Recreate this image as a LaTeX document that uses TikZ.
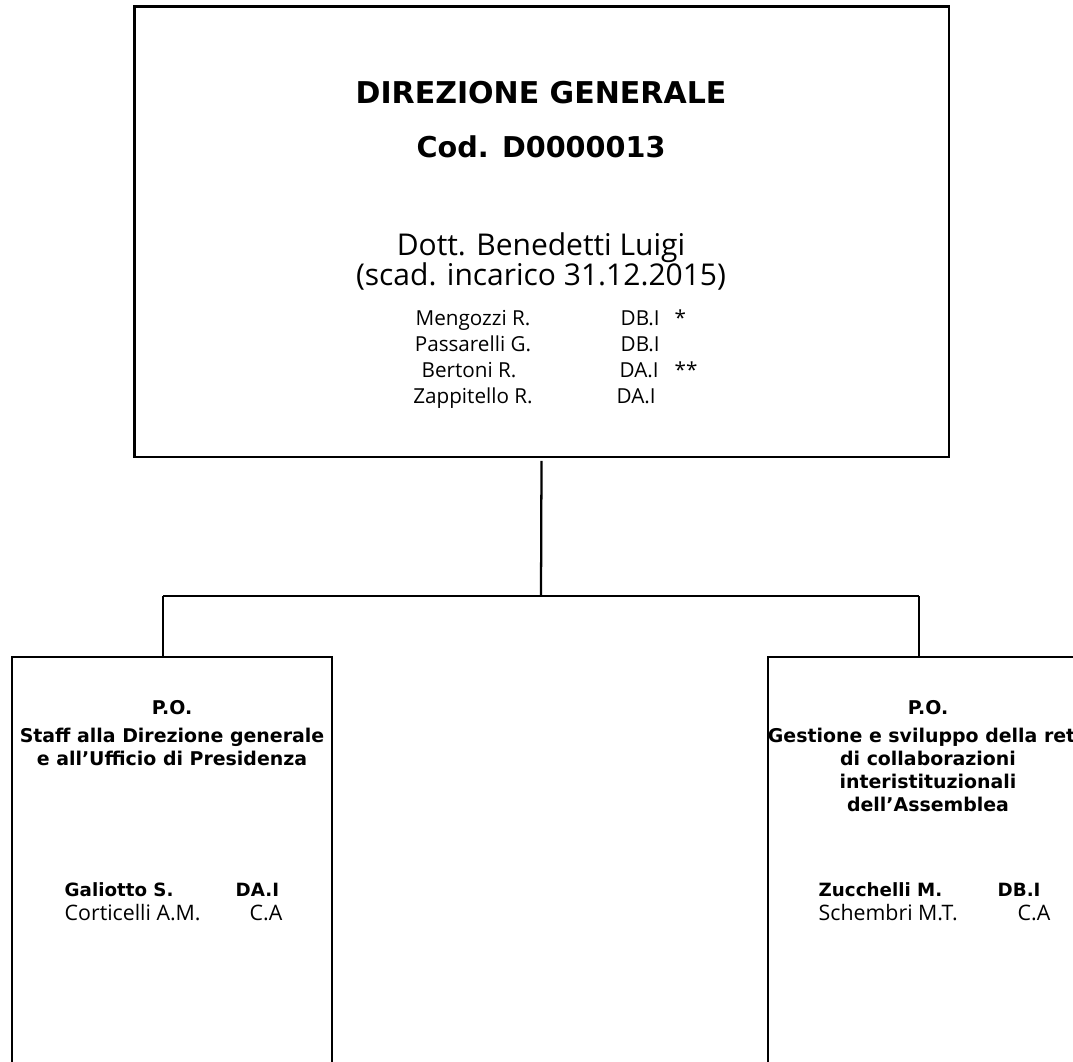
\documentclass[tikz,border=0pt]{standalone}
\usepackage{fontspec}
\newfontfamily\headfont{DejaVu Sans}
\newfontfamily\bodyfont{Open Sans}
\usetikzlibrary{positioning}

\tikzset{
  office/.style={draw, line width=2pt, inner sep=0pt},
  link/.style={line width=1.7pt},
  title/.style={font=\headfont\bfseries\fontsize{22.5}{27}\selectfont, anchor=base},
  code/.style={font=\headfont\bfseries\fontsize{21.5}{26}\selectfont, anchor=base},
  chief/.style={font=\bodyfont\fontsize{22.5}{27}\selectfont, anchor=base},
  unit/.style={font=\headfont\bfseries\fontsize{14.2}{17}\selectfont, anchor=base},
  staff/.style={font=\bodyfont\fontsize{15.5}{18}\selectfont, anchor=base},
  grade/.style={font=\bodyfont\fontsize{15.5}{18}\selectfont, anchor=base west},
  headb/.style={font=\headfont\bfseries\fontsize{13.7}{16}\selectfont, anchor=base west},
  memb/.style={font=\bodyfont\fontsize{16}{19}\selectfont, anchor=base west},
}

\begin{document}
\begin{tikzpicture}[x=0.75pt, y=-0.75pt]
\useasboundingbox (0,0) rectangle (1073,1061);
\clip (0,0) rectangle (1073,1061);

% Boxes
\node[office, minimum width=611pt, minimum height=338pt] (dg) at (541.5,231.5) {};
\node[office, minimum width=240pt, minimum height=375pt] (staffpo) at (172,907) {};
\node[office, minimum width=240pt, minimum height=375pt] (retepo) at (928,907) {};

% Connectors
\coordinate (hub) at (541,596);
\coordinate (hubl) at (163,596);
\coordinate (hubr) at (919,596);
\draw[link] ([yshift=-2pt]dg.south) -- (hub);
\draw[link] (hubl) -- (hubr);
\draw[link] (hubl) -- ([yshift=-1pt]hubl |- staffpo.north);
\draw[link] (hubr) -- ([yshift=-1pt]hubr |- retepo.north);

% Direzione generale
\node[title] (dgname) at (541,103) {DIREZIONE GENERALE};
\node[code] (dgcode) at (541,157) {Cod. D0000013};
\node[chief] (dgchief) at (541,255) {Dott. Benedetti Luigi};
\node[chief] (dgterm) at (541,285) {(scad. incarico 31.12.2015)};
\node[staff] (mengozzi) at (473,325) {Mengozzi R.};
\node[staff] (passarelli) at (473,351) {Passarelli G.};
\node[staff] (bertoni) at (469,377) {Bertoni R.};
\node[staff] (zappitello) at (473,403) {Zappitello R.};
\node[grade] (mengozzig) at (616,325) {DB.I};
\node[grade] (passarellig) at (616,351) {DB.I};
\node[grade] (bertonig) at (615,377) {DA.I};
\node[grade] (zappitellog) at (612,403) {DA.I};
\node[grade] (star1) at (670,325) {*};
\node[grade] (star2) at (670,377) {**};

% P.O. staff
\node[unit] (stafftit) at (172,714) {P.O.};
\node[unit] (staffl1) at (172,742) {Staff alla Direzione generale};
\node[unit] (staffl2) at (172,765) {e all’Ufficio di Presidenza};
\node[headb] (galiotto) at (60,896) {Galiotto S.};
\node[headb] (galiottog) at (231,896) {DA.I};
\node[memb] (corticelli) at (60,920) {Corticelli A.M.};
\node[memb] (corticellig) at (245,920) {C.A};

% P.O. rete
\node[unit] (retetit) at (928,714) {P.O.};
\node[unit] (retel1) at (928,742) {Gestione e sviluppo della rete};
\node[unit] (retel2) at (928,765) {di collaborazioni};
\node[unit] (retel3) at (928,788) {interistituzionali};
\node[unit] (retel4) at (928,811) {dell’Assemblea};
\node[headb] (zucchelli) at (814,896) {Zucchelli M.};
\node[headb] (zucchellig) at (993,896) {DB.I};
\node[memb] (schembri) at (814,920) {Schembri M.T.};
\node[memb] (schembrig) at (1013,920) {C.A};

\end{tikzpicture}
\end{document}
